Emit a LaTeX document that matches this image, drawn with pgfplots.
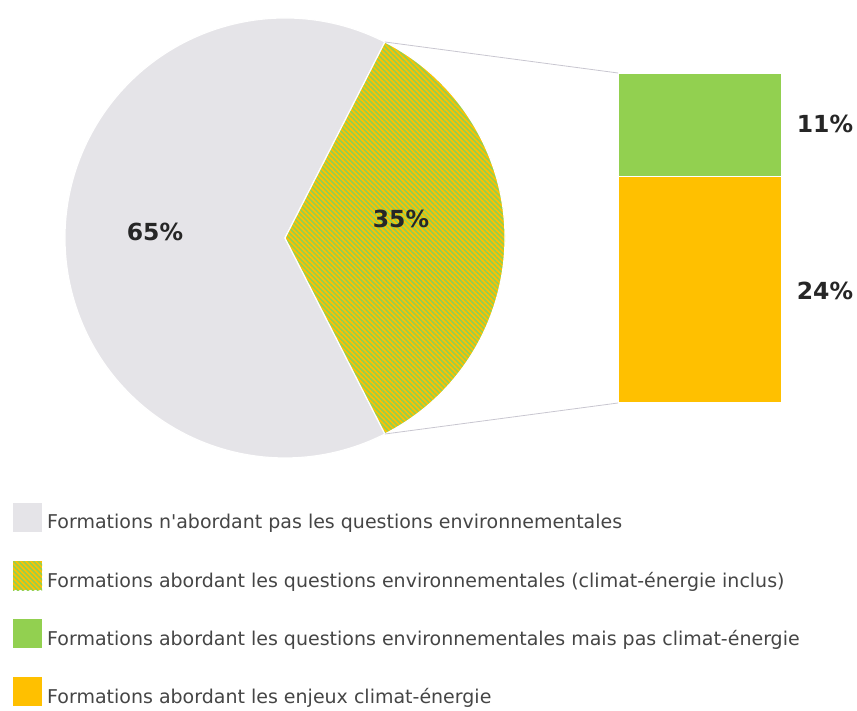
\documentclass[border=0pt]{standalone}
\usepackage{pgfplots}
\pgfplotsset{compat=1.18}
\usepackage{pgfplotstable}
\usepackage{fontspec}
\setmainfont{DejaVu Sans}
\usetikzlibrary{patterns.meta,calc}

\definecolor{gris}{HTML}{E5E4E8}
\definecolor{vert}{HTML}{92D050}
\definecolor{orangeE}{HTML}{FFC000}
\definecolor{texte}{HTML}{454545}
\definecolor{lien}{HTML}{C8C6D0}

% part des formations (camembert)
\pgfplotstableread{
part valeur
non 65
oui 35
}\camembert

% detail de la part "oui" (barre empilee)
\pgfplotstableread{
x climat autres
0.5 24 11
}\barre

\tikzset{
  raye/.style={pattern={Lines[angle=-45,distance=3.5pt,line width=1.6pt]},pattern color=vert},
  pct/.style={font=\fontsize{23.5}{26}\selectfont\bfseries, text=black!85},
}

\begin{document}
\begin{tikzpicture}
\path[use as bounding box] (0,0) rectangle (857pt,711pt);

\pgfplotstablegetelem{0}{valeur}\of\camembert \let\va\pgfplotsretval
\pgfplotstablegetelem{1}{valeur}\of\camembert \let\vb\pgfplotsretval
\pgfmathsetmacro{\aA}{1.8*\vb}
\pgfmathsetmacro{\aB}{\aA+3.6*\va}
\pgfmathsetmacro{\aC}{\aB+3.6*\vb}

\begin{axis}[
    x=1pt, y=1pt,
    xmin=0, xmax=857, ymin=0, ymax=711,
    at={(0,0)}, anchor=origin,
    hide axis, clip=false,
    legend cell align=left,
    legend image code/.code={\fill[#1, draw=none] (0pt,-10pt) rectangle (29pt,19pt);},
    legend style={at={(axis cs:13,208)}, anchor=north west, draw=none, fill=none,
        font=\fontsize{19}{22}\selectfont\color{texte}, row sep=29pt,
        inner sep=0pt, nodes={inner sep=0pt},
        /tikz/every odd column/.style={column sep=5pt}},
]
\fill[gris, draw=white, line width=1.2pt] (axis cs:285,473) -- ++(\aA:220pt)
    arc[start angle=\aA, end angle=\aB, radius=220pt] -- cycle;
\fill[orangeE] (axis cs:285,473) -- ++(\aB:220pt)
    arc[start angle=\aB, end angle=\aC, radius=220pt] -- cycle;
\fill[raye, draw=white, line width=1.2pt] (axis cs:285,473) -- ++(\aB:220pt)
    arc[start angle=\aB, end angle=\aC, radius=220pt] -- cycle;
\coordinate (ptop) at ($(axis cs:285,473)+(\aA:220pt)$);
\coordinate (pbot) at ($(axis cs:285,473)+(\aB:220pt)$);
\node[pct] at (axis cs:155,479) {\va\%};
\node[pct] at (axis cs:401,492) {\vb\%};

\addlegendimage{fill=gris}
\addlegendentry{Formations n\textquotesingle abordant pas les questions environnementales}
\addlegendimage{fill=orangeE, draw=none, postaction={raye, draw=none}}
\addlegendentry{Formations abordant les questions environnementales (climat-énergie inclus)}
\addlegendimage{fill=vert}
\addlegendentry{Formations abordant les questions environnementales mais pas climat-énergie}
\addlegendimage{fill=orangeE}
\addlegendentry{Formations abordant les enjeux climat-énergie}
\end{axis}

\begin{axis}[
    width=164pt, height=330pt, scale only axis,
    at={(618pt,308pt)}, anchor=origin,
    xmin=0, xmax=1, ymin=0, ymax=35,
    hide axis, clip=false,
    ybar stacked, bar width=1,
]
\addplot[fill=orangeE, draw=white, line width=1.2pt] table[x=x, y=climat] {\barre};
\addplot[fill=vert, draw=white, line width=1.2pt] table[x=x, y=autres] {\barre};
\node[pct] at (axis cs:1,29.6) [xshift=43pt] {11\%};
\node[pct] at (axis cs:1,11.9) [xshift=43pt] {24\%};
\coordinate (btop) at (axis cs:0,35);
\coordinate (bbot) at (axis cs:0,0);
\end{axis}

\draw[lien, line width=0.8pt] (ptop) -- (btop);
\draw[lien, line width=0.8pt] (pbot) -- (bbot);
\end{tikzpicture}
\end{document}
